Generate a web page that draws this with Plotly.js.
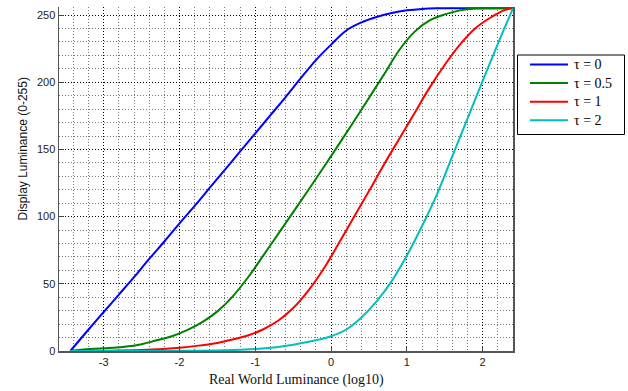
<!DOCTYPE html>
<html>
<head>
<meta charset="utf-8">
<script src="https://cdn.plot.ly/plotly-3.0.1.min.js"></script>
<style>
html,body{margin:0;padding:0;background:#fff;}
#chart{width:628px;height:391px;}
</style>
</head>
<body>
<div id="chart"></div>
<script>
// ---- data ----
const seriesNames = ["τ = 0", "τ = 0.5", "τ = 1", "τ = 2"];
const seriesColors = ["#0000FF", "#008000", "#FF0000", "#00BFBF"];

const tau0X = [-3.44,-3.2,-3.0,-2.8,-2.6,-2.4,-2.2,-2.0,-1.8,-1.6,-1.4,-1.2,-1.0,-0.8,-0.6,-0.4,-0.2,0.0,0.2,0.4,0.6,0.8,1.0,1.2,1.4,1.8,2.4];
const tau0Y = [0,16,29,42,55,68.5,81.5,95,108,121.5,135,148.5,162,175.5,189,203,216.5,228,238.5,244.5,248.5,251.5,253.5,254.6,255,255,255];

const tau05X = [-3.44,-3.3,-3.0,-2.75,-2.5,-2.3,-2.1,-1.9,-1.7,-1.5,-1.3,-1.1,-0.9,-0.7,-0.5,-0.3,-0.1,0.1,0.3,0.5,0.7,0.9,1.1,1.3,1.5,1.7,1.9,2.1,2.4];
const tau05Y = [0,1,2,3,5,8,11,15.5,21.5,29.5,40.5,54.5,70.6,87,103.4,119.8,136.6,153.6,170.8,188.4,206,224,237.5,246,250.5,253.5,254.8,255,255];

const tau1X = [-3.44,-2.42,-2.0,-1.75,-1.5,-1.3,-1.1,-0.9,-0.7,-0.5,-0.3,-0.1,0.1,0.3,0.5,0.7,0.9,1.1,1.3,1.5,1.7,1.9,2.1,2.3,2.4];
const tau1Y = [0,1,2.5,4,6,8.5,11.5,16,22.5,32,45,61,80,99.5,119,139,158,177,196,213,228,240,248,254,255];

const tau2X = [-3.44,-1.4,-1.0,-0.7,-0.4,-0.2,0.0,0.2,0.4,0.6,0.8,1.0,1.2,1.4,1.6,1.8,2.0,2.2,2.4];
const tau2Y = [0,0.5,1.5,3,5.8,8,11,16,25,37,52,71,93,117,145,173,201,228.5,255];

const xTickVals = [-3,-2,-1,0,1,2];
const xTickText = ["-3","-2","-1","0","1","2"];
const yTickVals = [0,50,100,150,200,250];
const yTickText = ["0","50","100","150","200","250"];

const xTitle = "Real World Luminance (log10)";
const yTitle = "Display Luminance (0-255)";

// ---- geometry helpers (pixel -> paper) ----
const W = 628, H = 391, ML = 59, MR = 115, MT = 7, MB = 40;
const PW = W - ML - MR, PH = H - MT - MB;
const px = v => (v - ML) / PW;
const py = v => (H - MB - v) / PH;

// ---- build traces ----
const xs = [tau0X, tau05X, tau1X, tau2X];
const ys = [tau0Y, tau05Y, tau1Y, tau2Y];
const traces = xs.map((x, i) => ({
  x: x, y: ys[i], type: "scatter", mode: "lines",
  name: seriesNames[i],
  line: {color: seriesColors[i], width: 2, shape: "spline", smoothing: 1},
  hoverinfo: "skip", showlegend: false
}));

// ---- legend drawn as box + swatches + labels ----
const legShapes = [{
  type: "rect", xref: "paper", yref: "paper",
  x0: px(517.5), x1: px(624.5), y0: py(55), y1: py(134.5),
  line: {color: "#000", width: 1}, fillcolor: "#fff", layer: "above"
}];
const legAnn = [];
seriesNames.forEach((n, i) => {
  const cy = 64.5 + 18.6 * i;
  legShapes.push({type: "line", xref: "paper", yref: "paper",
    x0: px(530), x1: px(568), y0: py(cy), y1: py(cy),
    line: {color: seriesColors[i], width: 2}, layer: "above"});
  legAnn.push({text: n, xref: "paper", yref: "paper", x: px(572), y: py(cy),
    xanchor: "left", yanchor: "middle", showarrow: false,
    font: {family: "Liberation Serif, Times New Roman, serif", size: 14, color: "#000"}});
});

const gridDash = "1px,2px";
const layout = {
  width: W, height: H,
  margin: {l: ML, r: MR, t: MT, b: MB, pad: 0},
  paper_bgcolor: "#ffffff",
  plot_bgcolor: "#ffffff",
  showlegend: false,
  xaxis: {
    range: [-3.59, 2.4],
    tickmode: "array", tickvals: xTickVals, ticktext: xTickText,
    ticks: "inside", ticklen: 5, tickcolor: "#444", tickwidth: 1,
    showline: true, linecolor: "#555", linewidth: 1.5, mirror: false,
    showgrid: true, gridcolor: "#000", gridwidth: 1, griddash: gridDash,
    minor: {dtick: 0.2, tick0: 0, showgrid: true, gridcolor: "#777", gridwidth: 1, griddash: gridDash, ticks: ""},
    zeroline: false,
    tickfont: {family: "Liberation Sans, Arial, sans-serif", size: 11, color: "#222"}
  },
  yaxis: {
    range: [0, 256],
    tickmode: "array", tickvals: yTickVals, ticktext: yTickText,
    ticks: "inside", ticklen: 5, tickcolor: "#444", tickwidth: 1,
    showline: true, linecolor: "#555", linewidth: 1.5, mirror: true,
    showgrid: true, gridcolor: "#000", gridwidth: 1, griddash: gridDash,
    minor: {dtick: 10, tick0: 0, showgrid: true, gridcolor: "#777", gridwidth: 1, griddash: gridDash, ticks: ""},
    zeroline: false,
    tickfont: {family: "Liberation Sans, Arial, sans-serif", size: 11, color: "#222"}
  },
  shapes: legShapes,
  annotations: [
    {text: xTitle, xref: "paper", yref: "paper", x: px(296.5), y: py(380),
     xanchor: "center", yanchor: "middle", showarrow: false,
     font: {family: "Liberation Serif, Times New Roman, serif", size: 14, color: "#111"}},
    {text: yTitle, xref: "paper", yref: "paper", x: px(22), y: py(149.5),
     xanchor: "center", yanchor: "middle", textangle: -90, showarrow: false,
     font: {family: "Liberation Sans, Arial, sans-serif", size: 12, color: "#111"}}
  ].concat(legAnn)
};

Plotly.newPlot("chart", traces, layout, {staticPlot: true, displayModeBar: false});
</script>
</body>
</html>
